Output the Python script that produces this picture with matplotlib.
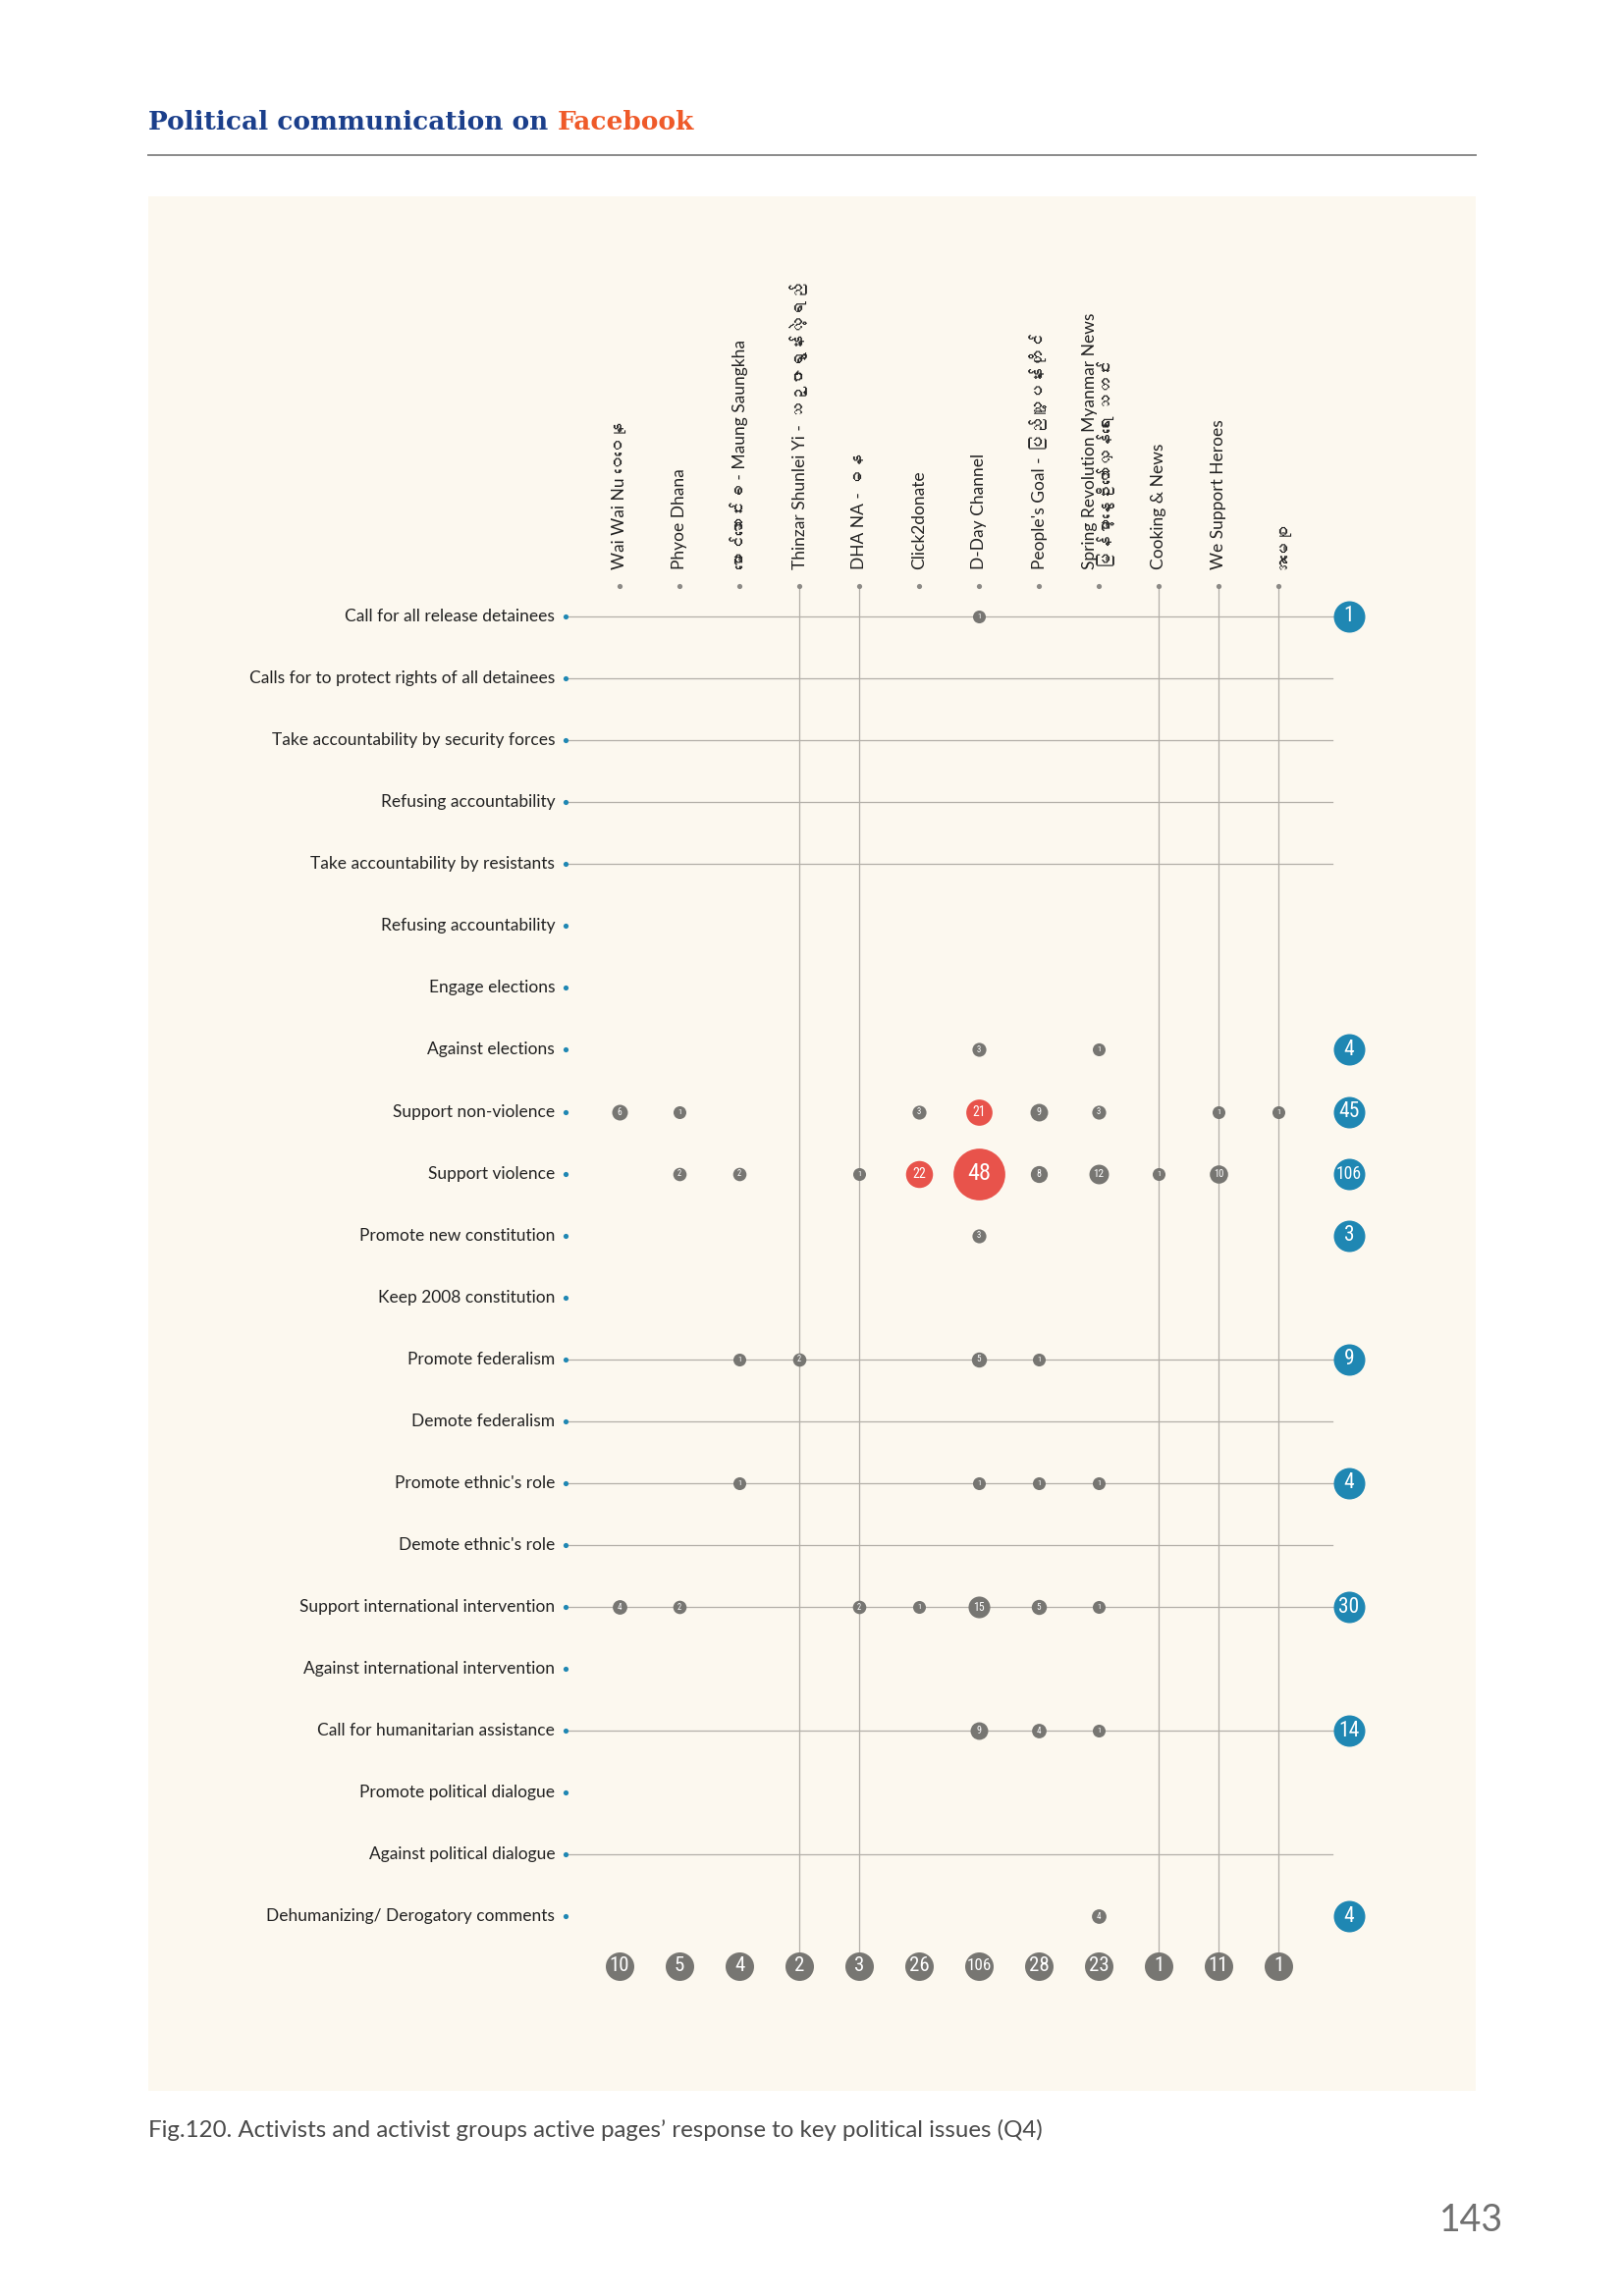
import numpy as np
import matplotlib
matplotlib.use("Agg")
import matplotlib.pyplot as plt
from matplotlib import font_manager as fm
from matplotlib.ft2font import FT2Font

# ---- data ----
pages = [
    "Wai Wai Nu ဝေဝေနု",
    "Phyoe Dhana",
    "မောင်ဆောင်းခ - Maung Saungkha",
    "Thinzar Shunlei Yi - သဉ္ဇာရွှန်းလဲ့ရည်",
    "DHA NA - ဓန",
    "Click2donate",
    "D-Day Channel",
    "People's Goal - ပြည်သူ့ပန်းတိုင်",
    "Spring Revolution Myanmar News\nမြန်မာ့နွေဦးတော်လှန်ရေး သတင်း",
    "Cooking & News",
    "We Support Heroes",
    "အမေစု",
]

issues = [
    "Call for all release detainees",
    "Calls for to protect rights of all detainees",
    "Take accountability by security forces",
    "Refusing accountability",
    "Take accountability by resistants",
    "Refusing accountability",
    "Engage elections",
    "Against elections",
    "Support non-violence",
    "Support violence",
    "Promote new constitution",
    "Keep 2008 constitution",
    "Promote federalism",
    "Demote federalism",
    "Promote ethnic's role",
    "Demote ethnic's role",
    "Support international intervention",
    "Against international intervention",
    "Call for humanitarian assistance",
    "Promote political dialogue",
    "Against political dialogue",
    "Dehumanizing/ Derogatory comments",
]

# counts per issue, one value per page (0 = no bubble)
counts = np.array([
    [0, 0, 0, 0, 0, 0, 1, 0, 0, 0, 0, 0],
    [0, 0, 0, 0, 0, 0, 0, 0, 0, 0, 0, 0],
    [0, 0, 0, 0, 0, 0, 0, 0, 0, 0, 0, 0],
    [0, 0, 0, 0, 0, 0, 0, 0, 0, 0, 0, 0],
    [0, 0, 0, 0, 0, 0, 0, 0, 0, 0, 0, 0],
    [0, 0, 0, 0, 0, 0, 0, 0, 0, 0, 0, 0],
    [0, 0, 0, 0, 0, 0, 0, 0, 0, 0, 0, 0],
    [0, 0, 0, 0, 0, 0, 3, 0, 1, 0, 0, 0],
    [6, 1, 0, 0, 0, 3, 21, 9, 3, 0, 1, 1],
    [0, 2, 2, 0, 1, 22, 48, 8, 12, 1, 10, 0],
    [0, 0, 0, 0, 0, 0, 3, 0, 0, 0, 0, 0],
    [0, 0, 0, 0, 0, 0, 0, 0, 0, 0, 0, 0],
    [0, 0, 1, 2, 0, 0, 5, 1, 0, 0, 0, 0],
    [0, 0, 0, 0, 0, 0, 0, 0, 0, 0, 0, 0],
    [0, 0, 1, 0, 0, 0, 1, 1, 1, 0, 0, 0],
    [0, 0, 0, 0, 0, 0, 0, 0, 0, 0, 0, 0],
    [4, 2, 0, 0, 2, 1, 15, 5, 1, 0, 0, 0],
    [0, 0, 0, 0, 0, 0, 0, 0, 0, 0, 0, 0],
    [0, 0, 0, 0, 0, 0, 9, 4, 1, 0, 0, 0],
    [0, 0, 0, 0, 0, 0, 0, 0, 0, 0, 0, 0],
    [0, 0, 0, 0, 0, 0, 0, 0, 0, 0, 0, 0],
    [0, 0, 0, 0, 0, 0, 0, 0, 4, 0, 0, 0],
])

row_totals = counts.sum(axis=1)
col_totals = counts.sum(axis=0)

# ---- styling ----
row_lines = [1, 1, 1, 1, 1, 0, 0, 0, 0, 0, 0, 0, 1, 1, 1, 1, 1, 0, 1, 0, 1, 0]
col_lines = [0, 0, 0, 1, 1, 0, 0, 0, 0, 1, 1, 1]

W, H = 1654, 2339
BG = "#fcf8ef"
GRAY = "#777672"
RED = "#e8534b"
BLUE = "#1f87b3"
LINE = "#b3afa8"


def family_with_char(ch):
    # look for an installed font that can draw this character
    for f in fm.fontManager.ttflist:
        try:
            if ord(ch) in FT2Font(f.fname).get_charmap():
                return f.name
        except Exception:
            pass
    return None


def installed(names):
    have = {f.name for f in fm.fontManager.ttflist}
    return [n for n in names if n in have]


mm_font = family_with_char("မ")
LABEL_FONT = ["Lato", "DejaVu Sans"] + ([mm_font] if mm_font else [])
NUM_FONT = installed(["Liberation Sans Narrow", "DejaVu Sans Condensed",
                      "Roboto Condensed"]) + ["DejaVu Sans"]


def diam(v):
    # bubble diameter in pixels
    return 12.5 + 0.55 * v + 0.006 * v ** 2


def s_of(d):
    return (d * 0.72) ** 2


def num_size(txt, base):
    return base * (0.82 if len(txt) >= 3 else 1.0)


fig = plt.figure(figsize=(W / 100, H / 100), dpi=100)
fig.patch.set_facecolor("white")

# page title and rule
t1 = fig.text(151 / W, 1 - 125 / H, "Political communication on ",
              fontsize=19, fontweight="heavy", family="DejaVu Serif",
              color="#1b3f8b", va="center", ha="left")
fig.canvas.draw()
bb = t1.get_window_extent()
fig.text(bb.x1 / W, 1 - 125 / H, "Facebook", fontsize=19, fontweight="heavy",
         family="DejaVu Serif", color="#ef5a29", va="center", ha="left")
fig.add_artist(plt.Line2D([151 / W, 1503 / W], [1 - 158 / H, 1 - 158 / H],
                          color="#8a8a8a", lw=1.4))

# chart panel
ax = fig.add_axes([151 / W, 1 - 2130 / H, 1352 / W, 1930 / H])
ax.set_facecolor(BG)
for sp in ax.spines.values():
    sp.set_visible(False)
ax.set_xticks([])
ax.set_yticks([])
ax.set_xlim(-7.869, 14.295)
ax.set_ylim(23.815, -6.786)

n_rows, n_cols = counts.shape
x_total = 12.18
y_total = 21.8
y_head = -0.49
x_rowdot = -0.9

# grid lines
for j in range(n_rows):
    if row_lines[j]:
        x_end = x_total if row_totals[j] > 0 else 11.9
        ax.plot([x_rowdot, x_end], [j, j], color=LINE, lw=0.9, zorder=1)
for i in range(n_cols):
    if col_lines[i]:
        ax.plot([i, i], [y_head, y_total], color=LINE, lw=0.9, zorder=1)

# row labels and dots
for j, name in enumerate(issues):
    ax.text(x_rowdot - 0.18, j, name, ha="right", va="center", fontsize=12.5,
            family=LABEL_FONT, color="#222222")
ax.scatter([x_rowdot] * n_rows, range(n_rows), s=14, color=BLUE, zorder=3,
           linewidths=0)

# column labels and dots
for i, name in enumerate(pages):
    ax.text(i, y_head - 0.27, name, rotation=90, ha="center", va="bottom",
            multialignment="left", fontsize=12.5, family=LABEL_FONT,
            color="#222222", linespacing=1.0)
ax.scatter(range(n_cols), [y_head] * n_cols, s=14, color="#8c8a86", zorder=3,
           linewidths=0)

# bubbles
for j in range(n_rows):
    for i in range(n_cols):
        v = counts[j, i]
        if v == 0:
            continue
        d = diam(v)
        col = RED if v >= 20 else GRAY
        ax.scatter(i, j, s=s_of(d), color=col, zorder=4, linewidths=0)
        ax.text(i, j, str(v), ha="center", va="center", color="white",
                fontsize=num_size(str(v), 0.29 * d + 2.2), family=NUM_FONT,
                fontstretch="condensed", zorder=5)

# row totals
for j in range(n_rows):
    if row_totals[j] > 0:
        txt = str(row_totals[j])
        ax.scatter(x_total, j, s=s_of(32), color=BLUE, zorder=4, linewidths=0)
        ax.text(x_total, j, txt, ha="center", va="center", color="white",
                fontsize=num_size(txt, 15.5), family=NUM_FONT,
                fontstretch="condensed", zorder=5)

# column totals
for i in range(n_cols):
    txt = str(col_totals[i])
    ax.scatter(i, y_total, s=s_of(29), color=GRAY, zorder=4, linewidths=0)
    ax.text(i, y_total, txt, ha="center", va="center", color="white",
            fontsize=num_size(txt, 15), family=NUM_FONT,
            fontstretch="condensed", zorder=5)

# caption and page number
fig.text(151 / W, 1 - 2170 / H,
         "Fig.120. Activists and activist groups active pages’ response to key political issues (Q4)",
         fontsize=17.3, family=LABEL_FONT, color="#4a4a4a", va="center", ha="left")
fig.text(1531 / W, 1 - 2262 / H, "143", fontsize=27, family=LABEL_FONT,
         color="#707070", va="center", ha="right")

fig.savefig("out.png", dpi=100, facecolor="white")
